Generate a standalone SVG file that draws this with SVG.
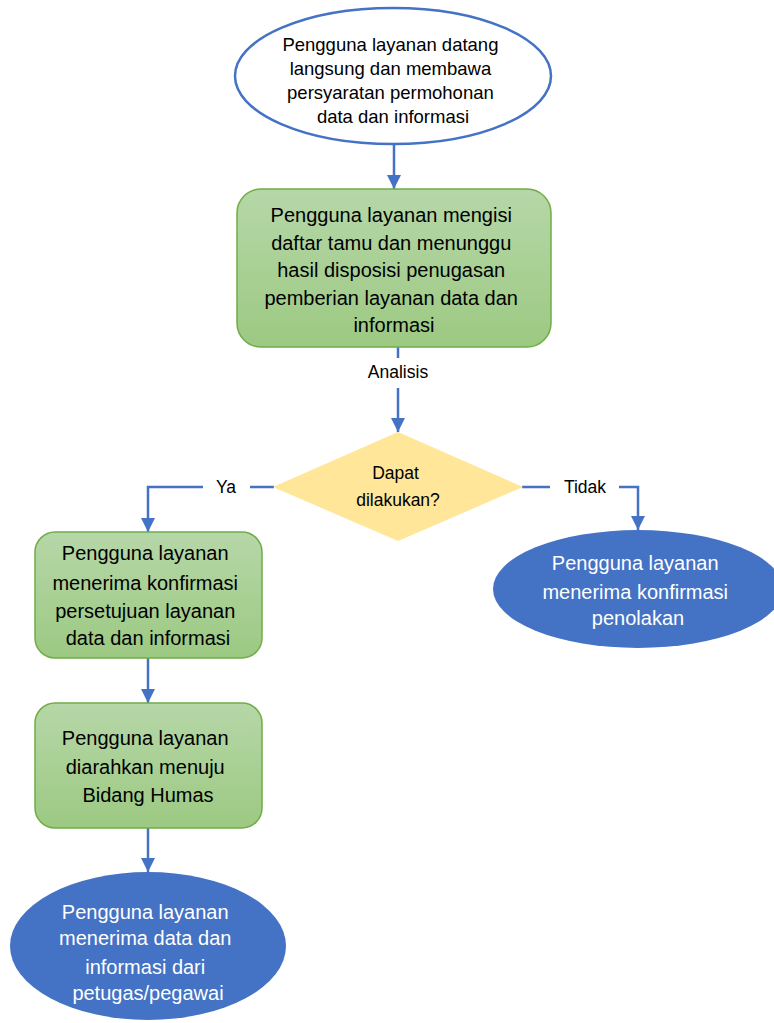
<svg xmlns="http://www.w3.org/2000/svg" width="774" height="1023" viewBox="0 0 774 1023">
<style>
  .t { font-family: "Liberation Sans", Arial, sans-serif; text-anchor: middle; fill: #000; }
  .w { fill: #fff; }
  .g { fill: url(#gr); stroke: #70AD47; stroke-width: 1.5; }
  .b { fill: #4472C4; stroke: none; }
  .c { fill: none; stroke: #4472C4; stroke-width: 2.5; }
  .lbl { fill: #fff; stroke: none; }
</style>
<defs>
  <linearGradient id="gr" x1="0" y1="0" x2="0" y2="1">
    <stop offset="0" stop-color="#B6D7A8"/>
    <stop offset="1" stop-color="#9CC982"/>
  </linearGradient>
  <marker id="ah" markerUnits="userSpaceOnUse" markerWidth="14" markerHeight="14" viewBox="0 0 14 14" refX="14" refY="7" orient="auto">
    <path d="M0,0 L14,7 L0,14 Z" fill="#4472C4"/>
  </marker>
</defs>
<rect width="774" height="1023" fill="#fff"/>

<g id="connectors">
  <path class="c" d="M394,145 V189" marker-end="url(#ah)"/>
  <path class="c" d="M398,347 V432" marker-end="url(#ah)"/>
  <rect class="lbl" x="360" y="358" width="76" height="30"/>
  <text class="t" x="398" y="378" font-size="17.5">Analisis</text>
  <path class="c" d="M274,487 H148 V532" marker-end="url(#ah)"/>
  <rect class="lbl" x="203" y="475" width="47" height="24"/>
  <text class="t" x="226" y="493" font-size="17.5">Ya</text>
  <path class="c" d="M522,487 H638 V530" marker-end="url(#ah)"/>
  <rect class="lbl" x="550" y="475" width="69" height="24"/>
  <text class="t" x="585" y="493" font-size="17.5">Tidak</text>
  <path class="c" d="M148,658 V703" marker-end="url(#ah)"/>
  <path class="c" d="M148,828 V872" marker-end="url(#ah)"/>
</g>

<g id="start">
  <ellipse cx="393" cy="76" rx="158" ry="68" fill="#fff" stroke="#4472C4" stroke-width="2.5"/>
  <text class="t" font-size="18.5" x="393">
    <tspan x="393" y="51">Pengguna layanan datang</tspan>
    <tspan x="393" y="75">langsung dan membawa</tspan>
    <tspan x="393" y="99">persyaratan permohonan</tspan>
    <tspan x="393" y="123">data dan informasi</tspan>
  </text>
</g>

<g id="isi-daftar">
  <rect class="g" x="237" y="189" width="314" height="158" rx="24"/>
  <text class="t" font-size="20">
    <tspan x="394" y="222">Pengguna layanan mengisi</tspan>
    <tspan x="394" y="250">daftar tamu dan menunggu</tspan>
    <tspan x="394" y="277">hasil disposisi penugasan</tspan>
    <tspan x="394" y="305">pemberian layanan data dan</tspan>
    <tspan x="394" y="332">informasi</tspan>
  </text>
</g>

<g id="keputusan">
  <polygon points="398,432 523,487 398,541 273,487" fill="#FFE699"/>
  <text class="t" font-size="17.5">
    <tspan x="398" y="479">Dapat</tspan>
    <tspan x="398" y="506">dilakukan?</tspan>
  </text>
</g>

<g id="persetujuan">
  <rect class="g" x="35" y="532" width="227" height="126" rx="20"/>
  <text class="t" font-size="20">
    <tspan x="148" y="560">Pengguna layanan</tspan>
    <tspan x="148" y="590">menerima konfirmasi</tspan>
    <tspan x="148" y="618">persetujuan layanan</tspan>
    <tspan x="148" y="645">data dan informasi</tspan>
  </text>
</g>

<g id="humas">
  <rect class="g" x="35" y="703" width="227" height="125" rx="20"/>
  <text class="t" font-size="20">
    <tspan x="148" y="745">Pengguna layanan</tspan>
    <tspan x="148" y="774">diarahkan menuju</tspan>
    <tspan x="148" y="802">Bidang Humas</tspan>
  </text>
</g>

<g id="penolakan">
  <ellipse class="b" cx="638" cy="589" rx="145" ry="59"/>
  <text class="t w" font-size="20">
    <tspan x="638" y="570">Pengguna layanan</tspan>
    <tspan x="638" y="599">menerima konfirmasi</tspan>
    <tspan x="638" y="625">penolakan</tspan>
  </text>
</g>

<g id="selesai">
  <ellipse class="b" cx="148" cy="946" rx="138" ry="74"/>
  <text class="t w" font-size="20">
    <tspan x="148" y="919">Pengguna layanan</tspan>
    <tspan x="148" y="945">menerima data dan</tspan>
    <tspan x="148" y="974">informasi dari</tspan>
    <tspan x="148" y="1000">petugas/pegawai</tspan>
  </text>
</g>
</svg>
